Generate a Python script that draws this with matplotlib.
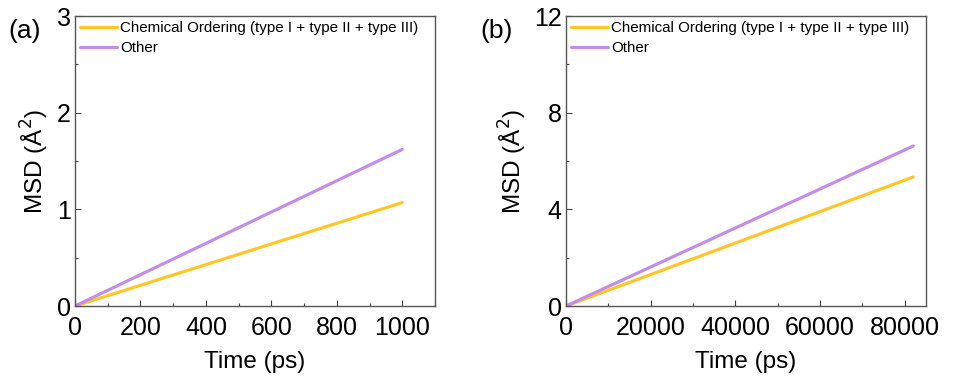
import matplotlib
matplotlib.use("Agg")
import matplotlib.pyplot as plt
from matplotlib.ticker import MultipleLocator

plt.rcParams['font.family'] = ['Liberation Sans', 'DejaVu Sans']

# panel (a)
time_a = [0, 1000]
chem_a = [0, 1.07]
other_a = [0, 1.62]
# panel (b)
time_b = [0, 82000]
chem_b = [0, 5.34]
other_b = [0, 6.62]

labels = ["Chemical Ordering (type I + type II + type III)", "Other"]
c_chem = "#FFC629"
c_other = "#C38EE6"

fig = plt.figure(figsize=(9.55, 3.79), dpi=100)
ax1 = fig.add_axes([75/955, 1-306/379, 360/955, 290/379])
ax2 = fig.add_axes([566/955, 1-306/379, 360/955, 290/379])

panels = [
    (ax1, time_a, chem_a, other_a, 1100, 3, 200, 100, 1, 0.5, "(a)", 8),
    (ax2, time_b, chem_b, other_b, 85000, 12, 20000, 10000, 4, 2, "(b)", 480),
]
for ax, t, ch, ot, xmax, ymax, xmaj, xmin_, ymaj, ymin_, tag, tagx in panels:
    ax.plot(t, ch, color=c_chem, lw=2.3, label=labels[0], solid_capstyle='round')
    ax.plot(t, ot, color=c_other, lw=2.3, label=labels[1], solid_capstyle='round')
    ax.set_xlim(0, xmax)
    ax.set_ylim(0, ymax)
    ax.xaxis.set_major_locator(MultipleLocator(xmaj))
    ax.xaxis.set_minor_locator(MultipleLocator(xmin_))
    ax.yaxis.set_major_locator(MultipleLocator(ymaj))
    ax.yaxis.set_minor_locator(MultipleLocator(ymin_))
    ax.tick_params(which='both', direction='in', top=False, right=False,
                   color='#444444', labelsize=18)
    ax.tick_params(axis='x', pad=7)
    ax.tick_params(axis='y', pad=3)
    ax.tick_params(which='major', length=4, width=0.8)
    ax.tick_params(which='minor', length=2.5, width=0.8)
    for s in ax.spines.values():
        s.set_color('#555555')
        s.set_linewidth(1.0)
    ax.set_xlabel("Time (ps)", fontsize=17.5, labelpad=8)
    ax.set_ylabel("MSD (Å$^2$)", fontsize=17.5, labelpad=4)
    ax.legend(loc='upper left', frameon=False, fontsize=10.9, handlelength=2.45,
              handletextpad=0.2, labelspacing=0.4, borderaxespad=0.2,
              borderpad=0.15)
    fig.text(tagx/955, 1-31/379, tag, fontsize=19, ha='left', va='center')

fig.savefig("out.png", dpi=100)
